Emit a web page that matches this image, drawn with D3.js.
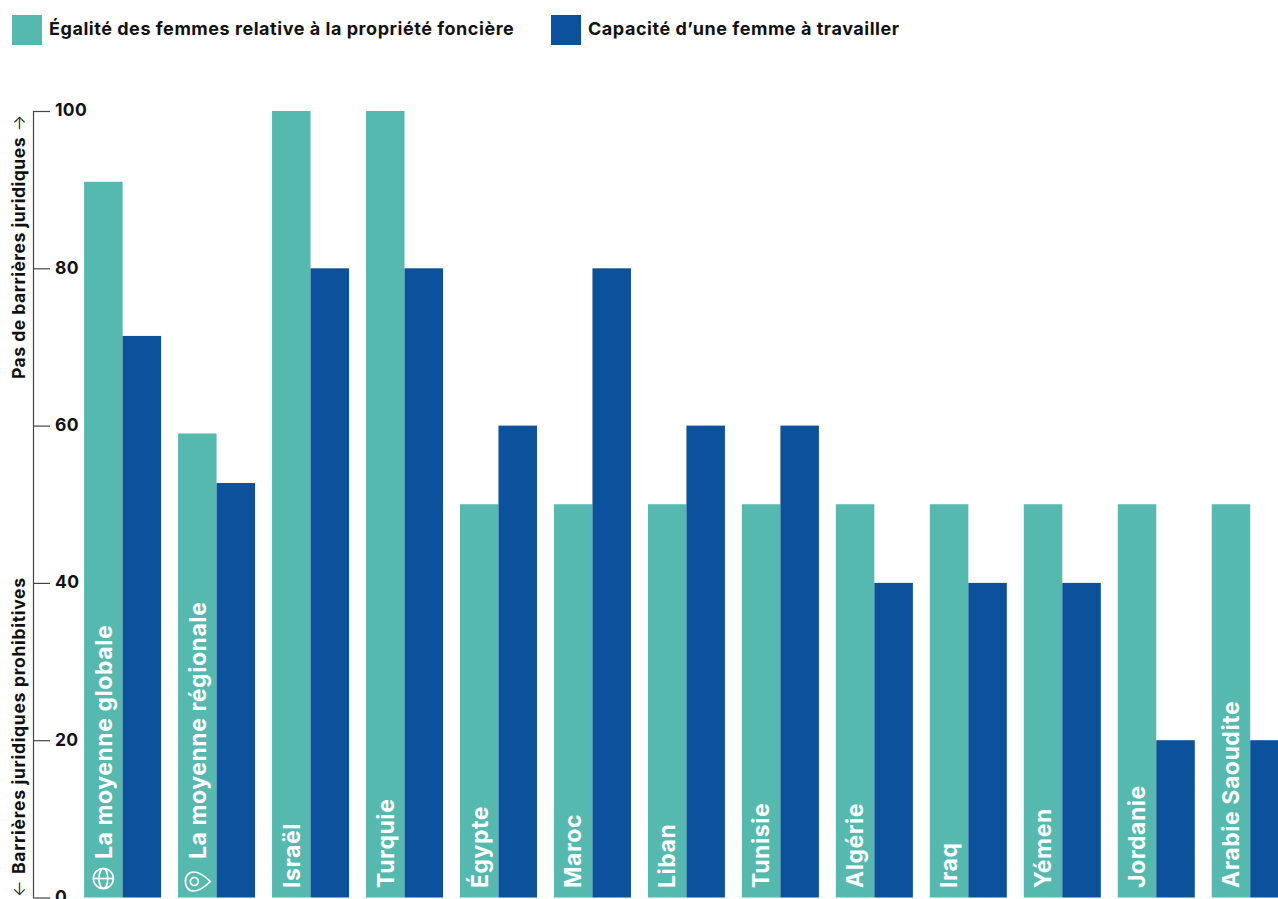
<!DOCTYPE html>
<html lang="fr">
<head>
<meta charset="utf-8">
<script src="https://cdn.jsdelivr.net/npm/d3@7"></script>
<style>
html,body{margin:0;padding:0;background:#fff;overflow:hidden}
svg{display:block}
text{font-family:Inter,"Noto Sans",sans-serif}
</style>
</head>
<body>
<svg id="chart" width="1278" height="899"></svg>
<script>
const categories = ["La moyenne globale","La moyenne régionale","Israël","Turquie","Égypte","Maroc","Liban","Tunisie","Algérie","Iraq","Yémen","Jordanie","Arabie Saoudite"];
const landValues = [91,59,100,100,50,50,50,50,50,50,50,50,50];
const workValues = [71.4,52.7,80,80,60,80,60,60,40,40,40,20,20];
const seriesNames = ["Égalité des femmes relative à la propriété foncière","Capacité d’une femme à travailler"];
const seriesColors = ["#56b9b0","#0b519c"];
const yTicks = [0,20,40,60,80,100];
const yTitleLow = "Barrières juridiques prohibitives";
const yTitleHigh = "Pas de barrières juridiques";
const arrowLow = "← ";
const arrowHigh = " →";

const svg = d3.select("#chart");
const x = d3.scaleBand().domain(categories).range([84.1,1288.74]).paddingInner(0.1806).paddingOuter(0);
const x1 = d3.scaleBand().domain([0,1]).range([0,x.bandwidth()]);
const y = d3.scaleLinear().domain([0,100]).range([897.5,111]);

// bars
const groups = svg.append("g").selectAll("g").data(categories).join("g")
  .attr("transform", d => `translate(${x(d)},0)`);
[landValues, workValues].forEach((vals,s) => {
  groups.append("rect")
    .attr("x", x1(s))
    .attr("width", x1.bandwidth())
    .attr("y", (d,i) => y(vals[i]))
    .attr("height", (d,i) => y(0)-y(vals[i]))
    .attr("fill", seriesColors[s]);
});

// category labels
groups.append("text")
  .attr("transform", (d,i) => `translate(${x1.bandwidth()/2},${i<2?859:888}) rotate(-90)`)
  .attr("dy","0.36em")
  .attr("font-size",23)
  .attr("font-weight",700)
  .attr("letter-spacing",0.55)
  .attr("fill","#fff")
  .text(d => d);

// icons
const globe = groups.filter((d,i)=>i===0).append("g")
  .attr("transform",`translate(${x1.bandwidth()/2},878.5)`)
  .attr("fill","none").attr("stroke","#fff").attr("stroke-width",1.7);
globe.append("circle").attr("r",10);
globe.append("ellipse").attr("rx",4.4).attr("ry",10);
globe.append("line").attr("x1",-10).attr("x2",10);
const pin = groups.filter((d,i)=>i===1).append("g")
  .attr("transform",`translate(${x1.bandwidth()/2-1},881.5)`)
  .attr("fill","none").attr("stroke","#fff").attr("stroke-width",1.7);
pin.append("path").attr("d","M14,0 C8,-6 2,-9.5 -3,-9.5 C-8,-9.5 -11,-5 -11,0 C-11,5 -8,9.5 -3,9.5 C2,9.5 8,6 14,0 Z");
pin.append("circle").attr("cx",-2).attr("r",4);

// axis
const axis = d3.axisRight(y).tickValues(yTicks).tickSize(17).tickPadding(5).tickSizeOuter(0);
const ag = svg.append("g").attr("transform","translate(33,0)").call(axis);
ag.select(".domain").attr("stroke","#444").attr("stroke-width",1.2).attr("d",`M0.5,${y(100)}V${y(0)}`);
ag.selectAll(".tick line").attr("stroke","#444").attr("stroke-width",1.2);
ag.selectAll(".tick text").attr("font-size",17.5).attr("font-weight",700).attr("letter-spacing",0.3).attr("fill","#111")
  .style("font-family",'Inter,"Noto Sans",sans-serif').attr("dy","0.28em");

// axis titles
const low = svg.append("text").attr("transform","translate(19,897) rotate(-90)").attr("dy","0.36em")
  .attr("font-size",17.5).attr("font-weight",700).attr("letter-spacing",0.7).attr("fill","#111");
low.append("tspan").attr("font-weight",300).text(arrowLow);
low.append("tspan").text(yTitleLow);
const high = svg.append("text").attr("transform","translate(19,379) rotate(-90)").attr("dy","0.36em")
  .attr("font-size",17.5).attr("font-weight",700).attr("letter-spacing",0.5).attr("fill","#111");
high.append("tspan").text(yTitleHigh);
high.append("tspan").attr("font-weight",300).text(arrowHigh);

// legend
const legendX = [12,551];
seriesNames.forEach((n,i) => {
  svg.append("rect").attr("x",legendX[i]).attr("y",15).attr("width",30).attr("height",30).attr("fill",seriesColors[i]);
  svg.append("text").attr("x",legendX[i]+37).attr("y",29).attr("dy","0.36em")
    .attr("font-size",18).attr("font-weight",700).attr("letter-spacing",0.54).attr("fill","#111").text(n);
});
</script>
</body>
</html>
